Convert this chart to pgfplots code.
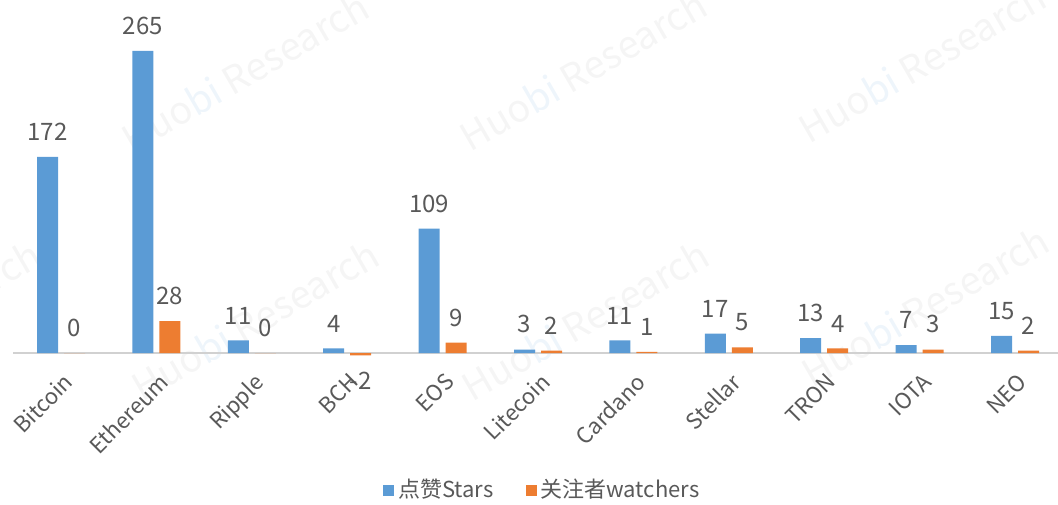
\documentclass[border=0pt]{standalone}
\usepackage{fontspec}
\setmainfont{Noto Sans CJK SC}
\usepackage{pgfplots}
\pgfplotsset{compat=1.18}
\definecolor{starblue}{HTML}{5B9BD5}
\definecolor{watchorange}{HTML}{ED7D31}
\definecolor{labelgray}{HTML}{595959}
\definecolor{wmgray}{HTML}{F5F5F5}
\definecolor{wmblue}{HTML}{EEF5FB}

\newcommand{\wm}{Huo\textcolor{wmblue}{bi} Research}

\begin{document}
\begin{tikzpicture}
\useasboundingbox (0,0) rectangle (529pt,252pt);
% faint watermark behind the chart
\foreach \px/\py in {122.5/216, 291.5/217, 461/221, -41.5/92, 127.5/92, 292.5/92, 462.5/99} {
  \node[rotate=30, text=wmgray, font=\fontsize{19}{22}\selectfont] at (\px pt,\py pt) {\wm};
}
\begin{axis}[
    at={(30.5pt,75.5pt)}, anchor=origin,
    x=47.7pt, y=0.57pt,
    xmin=-0.5, xmax=10.5, ymin=-10, ymax=280,
    ybar, bar width=10.5pt,
    axis x line=middle, axis y line=none,
    axis line style={-, draw=black!18, line width=0.8pt},
    xtick={0,...,10},
    xticklabels={Bitcoin,Ethereum,Ripple,BCH,EOS,Litecoin,Cardano,Stellar,TRON,IOTA,NEO},
    major tick length=0pt,
    ytick=\empty,
    xticklabel style={rotate=45, anchor=north east, text=labelgray,
        font=\fontsize{11}{13}\selectfont, inner sep=0pt, yshift=-7pt, xshift=-6pt},
    nodes near coords,
    every node near coord/.append style={text=labelgray,
        font=\fontsize{12}{14}\selectfont, inner sep=0pt, inner ysep=8pt},
    /pgf/number format/assume math mode=true,
    clip=false,
    legend columns=2,
    legend style={at={(0.505,-0.38)}, anchor=center, draw=none, fill=none,
        font=\fontsize{11}{13}\selectfont, text=labelgray,
        /tikz/every even column/.append style={column sep=14pt}},
    legend image code/.code={\fill[#1] (0pt,-2.75pt) rectangle (5.5pt,2.75pt);},
]
\addplot[bar shift=-6.75pt, fill=starblue, draw=none] coordinates {
    (0,172) (1,265) (2,11) (3,4) (4,109) (5,3) (6,11) (7,17) (8,13) (9,7) (10,15)
};
\addlegendentry{点赞Stars}
\addplot[bar shift=6.75pt, fill=watchorange, draw=none] coordinates {
    (0,0) (1,28) (2,0) (3,-2) (4,9) (5,2) (6,1) (7,5) (8,4) (9,3) (10,2)
};
\addlegendentry{关注者watchers}
\end{axis}
\end{tikzpicture}
\end{document}
